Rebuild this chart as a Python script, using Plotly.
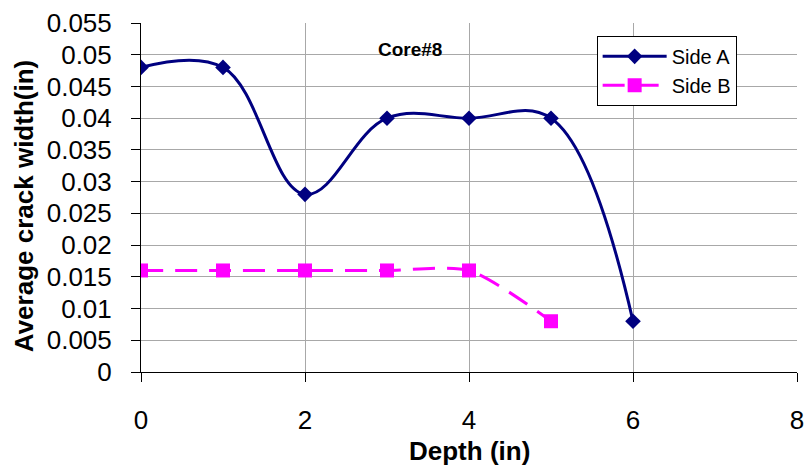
import plotly.graph_objects as go

depth_a = [0, 1, 2, 3, 4, 5, 6]
side_a = [0.048, 0.048, 0.028, 0.040, 0.040, 0.040, 0.008]
depth_b = [0, 1, 2, 3, 4, 5]
side_b = [0.016, 0.016, 0.016, 0.016, 0.016, 0.008]

y_ticks = [0, 0.005, 0.01, 0.015, 0.02, 0.025, 0.03, 0.035, 0.04, 0.045, 0.05, 0.055]
y_ticktext = ["0", "0.005", "0.01", "0.015", "0.02", "0.025", "0.03", "0.035", "0.04", "0.045", "0.05", "0.055"]
x_ticks = [0, 2, 4, 6, 8]

FONT = "Arial, 'Liberation Sans', sans-serif"

fig = go.Figure()
fig.add_trace(go.Scatter(
    x=depth_a, y=side_a, name="Side A", mode="lines+markers",
    line=dict(color="#000080", width=3, shape="spline", smoothing=1.1),
    marker=dict(symbol="diamond", size=12, color="#000080"),
))
fig.add_trace(go.Scatter(
    x=depth_b, y=side_b, name="Side B", mode="lines+markers",
    line=dict(color="#FF00FF", width=3, shape="spline", smoothing=0.7, dash="22px,12px"),
    marker=dict(symbol="square", size=14, color="#FF00FF"),
))

grid = "#a8a8a8"
fig.update_layout(
    width=812, height=467,
    margin=dict(l=141, r=8, t=19, b=95),
    paper_bgcolor="white", plot_bgcolor="white",
    font=dict(family=FONT, color="black", size=26),
    showlegend=True,
    legend=dict(
        x=(743 - 141) / 663, xanchor="right", y=(372 - 32) / 353, yanchor="top",
        bordercolor="black", borderwidth=1, bgcolor="white",
        font=dict(size=20, family=FONT), itemwidth=64,
    ),
    xaxis=dict(
        range=[0, 8], tickvals=x_ticks, showgrid=True, gridcolor=grid, gridwidth=1,
        showline=True, linecolor="black", linewidth=1, zeroline=False,
        ticks="outside", ticklen=9, tickcolor="black",
        tickfont=dict(size=26), ticklabelstandoff=16,
    ),
    yaxis=dict(
        range=[0, 0.055], tickvals=y_ticks, ticktext=y_ticktext,
        showgrid=True, gridcolor=grid, gridwidth=1,
        showline=True, linecolor="black", linewidth=1, zeroline=False,
        ticks="outside", ticklen=9, tickcolor="black",
        tickfont=dict(size=26), ticklabelstandoff=14,
    ),
    annotations=[
        dict(text="<b>Core#8</b>", x=0.4096, y=0.9235, xref="paper", yref="paper",
             showarrow=False, font=dict(size=19), xanchor="center", yanchor="middle"),
        dict(text="<b>Depth (in)</b>", x=0.5, y=(372 - 452) / 353, xref="paper", yref="paper",
             showarrow=False, font=dict(size=26), xanchor="center", yanchor="middle"),
        dict(text="<b>Average crack width(in)</b>", x=(23 - 141) / 663, y=(372 - 204) / 353,
             xref="paper", yref="paper", textangle=-90,
             showarrow=False, font=dict(size=26), xanchor="center", yanchor="middle"),
    ],
)

fig.write_html("out.html")
